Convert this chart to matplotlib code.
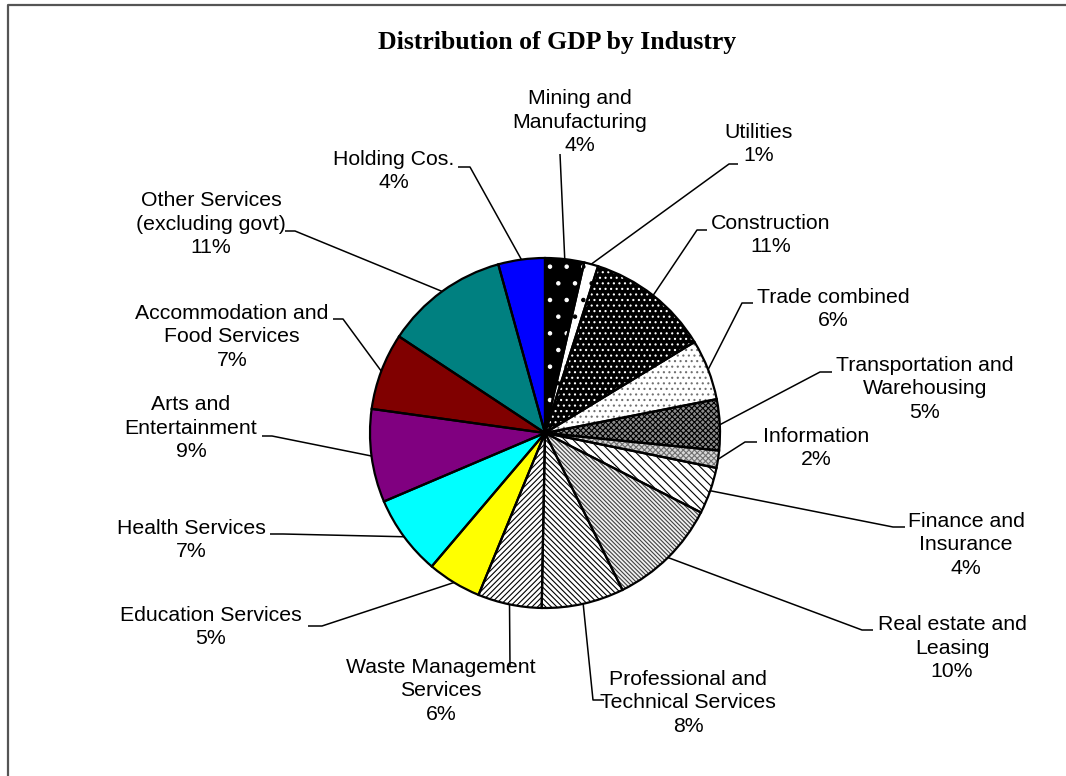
import numpy as np
import matplotlib
matplotlib.use("Agg")
import matplotlib.pyplot as plt

# GDP share by industry, clockwise from 12 o'clock
industries = ["Mining and\nManufacturing", "Utilities", "Construction", "Trade combined",
              "Transportation and\nWarehousing", "Information", "Finance and\nInsurance",
              "Real estate and\nLeasing", "Professional and\nTechnical Services",
              "Waste Management\nServices", "Education Services", "Health Services",
              "Arts and\nEntertainment", "Accommodation and\nFood Services",
              "Other Services\n(excluding govt)", "Holding Cos."]
shares = [3.6, 1.3, 11.4, 5.6, 4.7, 1.6, 4.3, 10.2, 7.6, 5.9, 5.0, 7.4, 8.6, 7.1, 11.4, 4.3]

# fill style per slice: (face, hatch, hatch colour)
styles = [("black", ".", "white"), ("white", ".", "black"), ("black", "...", "white"),
          ("white", "...", "#707070"), ("#8c8c8c", "xxxxxx", "black"),
          ("#d8d8d8", "xxxxxx", "#707070"),
          ("white", "\\" * 4, "black"), ("#f0f0f0", "\\" * 8, "#404040"),
          ("white", "\\" * 6, "black"), ("white", "/" * 6, "black"),
          ("#ffff00", "", "none"), ("#00ffff", "", "none"), ("#800080", "", "none"),
          ("#800000", "", "none"), ("#008080", "", "none"), ("#0000ff", "", "none")]

# label block centres and leader-line elbows, in pixels from the top-left
label_xy = [(580, 122), (759, 144), (771, 235), (833, 309), (925, 389), (816, 448),
            (966, 545), (952, 648), (688, 703), (441, 691), (211, 627), (191, 540),
            (191, 428), (232, 337), (211, 224), (394, 171)]
elbows = [(560, 154, 560), (729, 164, 738), (697, 230, 707), (742, 303, 753),
          (820, 372, 832), (745, 442, 757), (893, 527, 905), (862, 630, 873),
          (593, 700, 604), (510, 666, 510), (322, 626, 308), (283, 534, 270),
          (272, 436, 262), (343, 319, 333), (295, 231, 285), (470, 167, 458)]

W, H = 1066, 776
cx, cy, R = 545, 433, 175

plt.rcParams["hatch.linewidth"] = 0.8

fig = plt.figure(figsize=(W / 100, H / 100), dpi=100)
ax = fig.add_axes([0, 0, 1, 1])

faces = [s[0] for s in styles]
wedges, _ = ax.pie(shares, colors=faces, startangle=90, counterclock=False,
                   center=(cx, H - cy), radius=R, wedgeprops=dict(linewidth=0))
for w, (fc, hatch, hc) in zip(wedges, styles):
    if hatch:
        w.set_edgecolor(hc)
        w.set_hatch(hatch)
        w.set_linewidth(0)

# outlines on top
ax.pie(shares, colors=["none"] * len(shares), startangle=90, counterclock=False,
       center=(cx, H - cy), radius=R,
       wedgeprops=dict(linewidth=1.6, edgecolor="black", fill=False))

for w, name, val, (tx, ty), (ex, ey, tail) in zip(wedges, industries, shares, label_xy, elbows):
    ang = np.deg2rad((w.theta1 + w.theta2) / 2)
    sx = cx + R * np.cos(ang)
    sy = (H - cy) + R * np.sin(ang)
    ax.plot([sx, ex, tail], [sy, H - ey, H - ey], color="black", lw=1.1,
            solid_capstyle="butt", zorder=0.5)
    ax.text(tx, H - ty, f"{name}\n{round(val)}%", ha="center", va="center",
            multialignment="center", fontsize=15.3, family="Liberation Sans",
            linespacing=1.3)

ax.text(557, H - 42, "Distribution of GDP by Industry", ha="center", va="center",
        fontsize=18.5, fontweight="bold", family="Liberation Serif")

# chart frame (left and top edges visible)
ax.plot([8, 8, W], [0, H - 5, H - 5], color="#555555", lw=1.6)

ax.set_xlim(0, W)
ax.set_ylim(0, H)
ax.set_aspect("equal")
ax.axis("off")

fig.savefig("out.png", dpi=100)
